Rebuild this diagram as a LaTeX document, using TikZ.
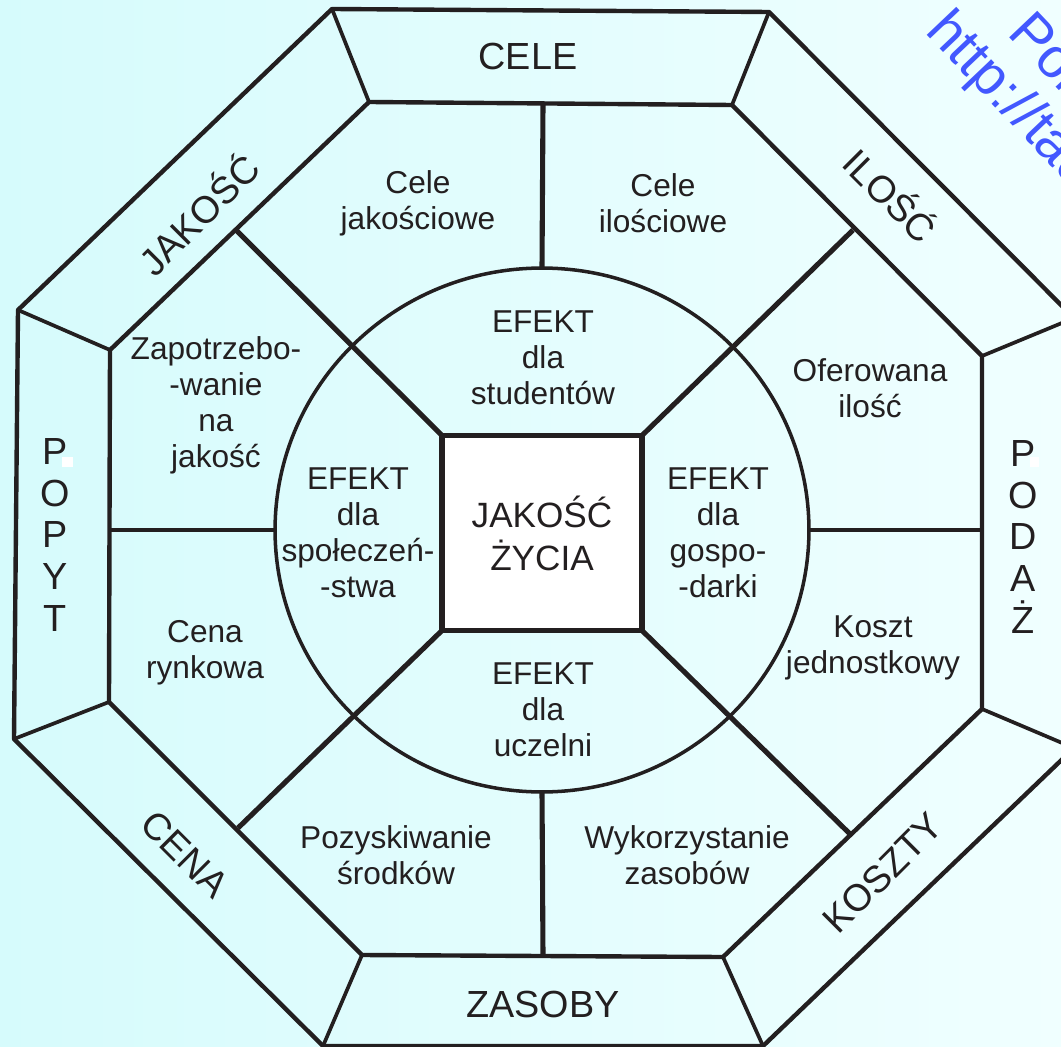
\documentclass[tikz,border=0pt]{standalone}
\usepackage{fontspec}
\setmainfont{Liberation Sans}
\usepackage{xcolor}
\usepackage{tikz}
\usetikzlibrary{shapes.geometric}

\definecolor{ink}{RGB}{35,31,32}
\definecolor{bgleft}{RGB}{214,251,252}
\definecolor{bgright}{RGB}{240,255,255}
\definecolor{stamp}{RGB}{66,88,255}

\begin{document}
\begin{tikzpicture}[x=0.02cm, y=-0.02cm,
    edge/.style={draw=ink, line width=2.5pt, line join=round},
    spoke/.style={draw=ink, line width=2.1pt},
    wall/.style={draw=ink, line width=2.9pt},
    txt/.style={text=ink, align=center, inner sep=0pt, font=\fontsize{18}{20.5}\selectfont},
    head/.style={text=ink, align=center, inner sep=0pt, font=\fontsize{21.5}{23.8}\selectfont},
    patch/.style={fill=white, draw=none}]
  % background
  \useasboundingbox (0,0) rectangle (1061,1047);
  \shade[left color=bgleft, right color=bgright] (0,0) rectangle (1061,1047);

  % outer and inner octagon
  \coordinate (o1) at (332,9);    \coordinate (o2) at (769,12);
  \coordinate (o3) at (1074,318); \coordinate (o4) at (1074,748);
  \coordinate (o5) at (763,1046); \coordinate (o6) at (323,1046);
  \coordinate (o7) at (14,739);   \coordinate (o8) at (18,310);
  \coordinate (i1) at (369,102);  \coordinate (i2) at (732,105);
  \coordinate (i3) at (982,356);  \coordinate (i4) at (982,709);
  \coordinate (i5) at (723,957);  \coordinate (i6) at (362,955);
  \coordinate (i7) at (109,702);  \coordinate (i8) at (110,350);
  \draw[edge] (o1) -- (o2) -- (o3) -- (o4) -- (o5) -- (o6) -- (o7) -- (o8) -- cycle;
  \draw[edge] (i1) -- (i2) -- (i3) -- (i4) -- (i5) -- (i6) -- (i7) -- (i8) -- cycle;
  \foreach \k in {1,...,8}
    \draw[spoke] (o\k) -- (i\k);

  % ring and centre
  \node[ellipse, draw=ink, line width=2pt, inner sep=0pt, outer sep=0pt,
        minimum width=10.68cm, minimum height=10.48cm] (ring) at (542,530) {};
  \node[draw=ink, fill=white, line width=3.1pt, outer sep=0pt, inner sep=0pt,
        minimum width=4cm, minimum height=3.9cm, text=ink, align=center,
        font=\fontsize{20}{24.4}\selectfont] (sq) at (542,533) {JAKOŚĆ\\ŻYCIA};

  % walls between the fields
  \coordinate (wtop) at (543,104);  \coordinate (wbot) at (543,956);
  \coordinate (wleft) at (110,530); \coordinate (wright) at (982,530);
  \draw[wall] (wtop) -- (ring.north);
  \draw[wall] (wbot) -- (ring.south);
  \draw[spoke] (wleft) -- (ring.west);
  \draw[spoke] (wright) -- (ring.east);
  \coordinate (d1) at (236,230); \coordinate (d2) at (853,230);
  \coordinate (d3) at (238,828); \coordinate (d4) at (850,834);
  \draw[wall] (sq.north west) -- (d1);
  \draw[wall] (sq.north east) -- (d2);
  \draw[wall] (sq.south west) -- (d3);
  \draw[wall] (sq.south east) -- (d4);

  % outer band
  \node[head] (cele) at (528,57) {CELE};
  \node[head] (zasoby) at (543,1004) {ZASOBY};
  \node[head, rotate=45] (jakosc) at (197,213) {JAKOŚĆ};
  \node[head, rotate=-45] (ilosc) at (892,194) {ILOŚĆ};
  \node[head, rotate=-45] (cena) at (185,854) {CENA};
  \node[head, rotate=45] (koszty) at (883,873) {KOSZTY};
  \node[head] (popyt) at (55,535) {P\\O\\P\\Y\\T};
  \node[head] (podaz) at (1023,537) {P\\O\\D\\A\\Ż};
  \fill[patch] (62,457) rectangle (73,467);
  \fill[patch] (1030,457) rectangle (1039,467);

  % middle band
  \node[txt] (celejak) at (418,203) {Cele\\jakościowe};
  \node[txt] (celeil) at (663,203) {Cele\\ilościowe};
  \node[txt] (zapotrz) at (216,405) {Zapotrzebo-\\-wanie\\na\\jakość};
  \node[txt] (cenaryn) at (205,653) {Cena\\rynkowa};
  \node[txt] (oferow) at (870,388) {Oferowana\\ilość};
  \node[txt] (kosztj) at (873,648) {Koszt\\jednostkowy};
  \node[txt] (pozysk) at (396,855) {Pozyskiwanie\\środków};
  \node[txt] (wykorz) at (687,855) {Wykorzystanie\\zasobów};

  % inner ring
  \node[txt] (efstud) at (543,358) {EFEKT\\dla\\studentów};
  \node[txt] (efspol) at (358,533) {EFEKT\\dla\\społeczeń-\\-stwa};
  \node[txt] (efgosp) at (718,533) {EFEKT\\dla\\gospo-\\-darki};
  \node[txt] (efucz) at (543,710) {EFEKT\\dla\\uczelni};

  % stamp
  \node[text=stamp, inner sep=0pt, anchor=base west, rotate=-46.5,
        font=\fontsize{32}{36}\selectfont] (stamp1) at (1006,34) {Pob};
  \node[text=stamp, inner sep=0pt, anchor=base west, rotate=-46.5,
        font=\fontsize{32}{36}\selectfont] (stamp2) at (924,32) {http://tad};
\end{tikzpicture}
\end{document}
